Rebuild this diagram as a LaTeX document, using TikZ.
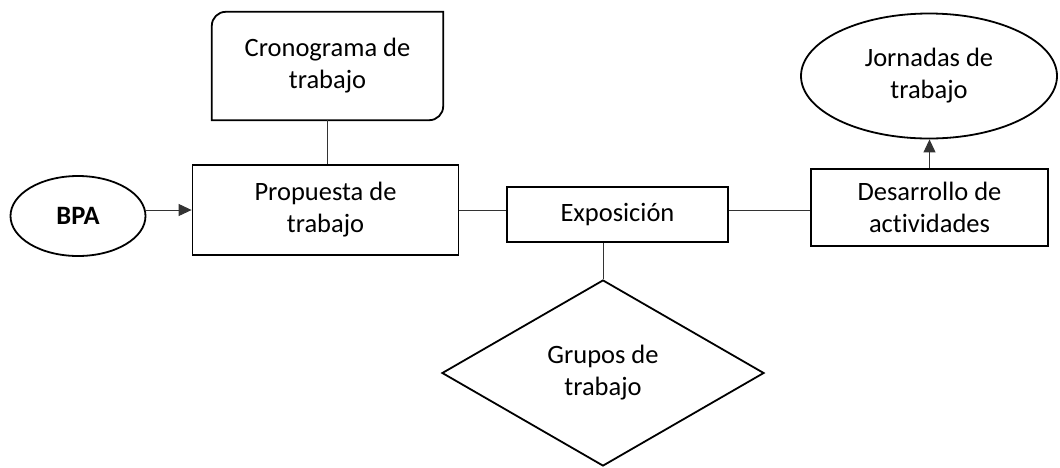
\documentclass[tikz,border=0pt]{standalone}
\usepackage{fontspec}
\setmainfont{Carlito}[Ligatures=NoCommon]
\usetikzlibrary{shapes.geometric,arrows.meta}
\begin{document}
\begin{tikzpicture}[x=1pt,y=1pt,
  every node/.style={font=\fontsize{26.5}{32}\selectfont, align=center, inner sep=0pt},
  boxline/.style={draw, line width=1.8pt},
  rectbox/.style={boxline, rectangle},
  conn/.style={line width=1pt, draw=black!80},
  arr/.style={conn, -{Triangle[length=13pt,width=12pt]}}]
\useasboundingbox (0,0) rectangle (1060,-467);
\node[boxline, ellipse, minimum width=135pt, minimum height=80pt] (bpa) at (78,-216) {\textbf{BPA}};
\node[rectbox, minimum width=266pt, minimum height=90pt] (prop) at (325.5,-210) {Propuesta de\\trabajo};
\node[minimum width=231pt, minimum height=108pt] (cron) at (327.5,-66) {Cronograma de\\trabajo};
\draw[line width=1.8pt] (cron.south west) -- ([yshift=-14pt]cron.north west)
  arc[start angle=180,end angle=90,radius=14pt] -- (cron.north east)
  -- ([yshift=14pt]cron.south east) arc[start angle=0,end angle=-90,radius=14pt] -- cycle;
\node[rectbox, minimum width=221pt, minimum height=55pt] (expo) at (617.5,-214.5) {Exposición};
\node[boxline, diamond, minimum width=322pt, minimum height=186pt] (grp) at (603,-373) {Grupos de\\trabajo};
\node[rectbox, minimum width=237pt, minimum height=77pt] (des) at (929.5,-207.5) {Desarrollo de\\actividades};
\node[boxline, ellipse, minimum width=256pt, minimum height=125pt] (jor) at (929,-76) {Jornadas de\\trabajo};
\draw[arr] (bpa.east |- prop.west) -- (prop.west);
\draw[conn] (cron.south) -- (cron.south |- prop.north);
\draw[conn] (prop.east) -- (prop.east -| expo.west);
\draw[conn] (expo.east |- prop.east) -- (des.west |- prop.east);
\draw[conn] (grp.north) -- (grp.north |- expo.south);
\draw[arr] (des.north) -- (des.north |- jor.south);
\end{tikzpicture}
\end{document}
